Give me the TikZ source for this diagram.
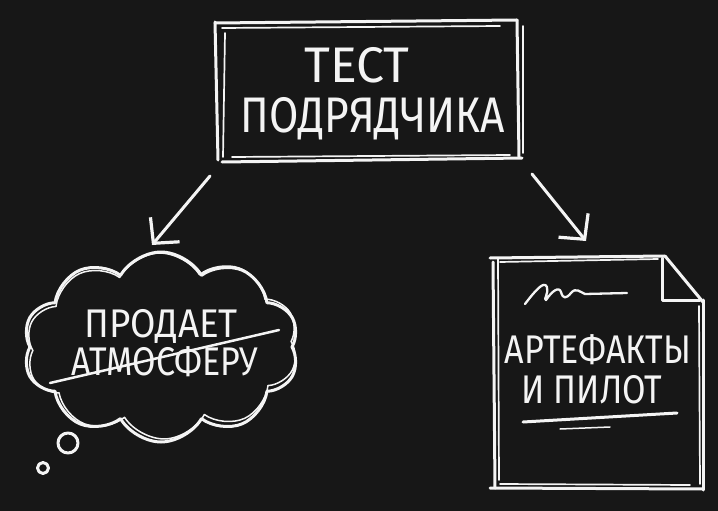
\documentclass[tikz,border=0pt]{standalone}
\usepackage{fontspec}
\setmainfont{Fira Sans}[FakeStretch=0.85]
\usetikzlibrary{arrows.meta,positioning,calc,shapes.symbols}
\definecolor{board}{HTML}{171717}
\definecolor{chalk}{HTML}{F4F4F4}
\tikzset{
  sketch/.style={draw=chalk, line width=3pt, line cap=round, line join=round},
  thinsketch/.style={sketch, line width=1.5pt},
  pointer/.style={sketch, -{Straight Barb[length=18pt,width=38pt,line width=3.2pt]}},
  bigtext/.style={text=chalk, font=\fontsize{50}{52}\selectfont, inner sep=0pt, anchor=base},
  midtext/.style={text=chalk, font=\fontsize{40}{44}\selectfont, inner sep=0pt, anchor=base}
}
\begin{document}
\begin{tikzpicture}[x=1pt,y=-1pt]
        \fill[board] (0,0) rectangle (718,511);
        % top box
        \foreach \xa/\ya/\xb/\yb/\w in {215/23/517/20/3,222/28/500/26/1.7,215/22/218/160/3,225/33/223/157/1.7,
                                        517/20/519/157/3,523/26/523/153/1.7,222/162/522/158/3,232/157/510/155/1.7} {
          \draw[sketch,line width=\w pt] (\xa,\ya) -- (\xb,\yb);
        }
        \node[bigtext] (title1) at (357,82) {\addfontfeatures{FakeStretch=1.0}ТЕСТ};
        \node[bigtext] (title2) at (373,132) {ПОДРЯДЧИКА};
        % arrows
        \coordinate (lstart) at (210,176);
        \coordinate (lend) at (152,245);
        \coordinate (rstart) at (532,174);
        \coordinate (rend) at (586,241);
        \draw[pointer] (lstart) -- (lend);
        \draw[pointer] (rstart) -- (rend);
        % thought cloud
        \node[cloud, cloud puffs=10, cloud puff arc=120, aspect=1.5, sketch,
              minimum width=276pt, minimum height=190pt] (thought) at (161,347) {};
        \node[cloud, cloud puffs=10, cloud puff arc=120, aspect=1.5, thinsketch, rotate=2,
              minimum width=272pt, minimum height=186pt] (thought2) at (162,346) {};
        \node[circle, sketch, minimum size=20pt, inner sep=0pt] (bubble1) at (68,443) {};
        \node[circle, sketch, minimum size=11pt, inner sep=0pt] (bubble2) at (43,468) {};
        \node[midtext] (sells) at (161,337) {\addfontfeatures{FakeStretch=0.92}ПРОДАЕТ};
        \node[midtext] (mood) at (165,375) {АТМОСФЕРУ};
        \coordinate (cut1) at (50,383);
        \coordinate (cut2) at (279,330);
        \draw[sketch,line width=2.5pt] (cut1) -- (cut2);
        % document
        \foreach \xa/\ya/\xb/\yb/\w in {493/262/495/488/3,498/258/499/480/1.7,490/258/665/256/3,500/262/658/259/1.7,
                                        665/256/703/302/3,703/300/703/490/3,699/306/700/484/1.7,
                                        490/488/703/489/3,500/484/690/485/1.7} {
          \draw[sketch,line width=\w pt] (\xa,\ya) -- (\xb,\yb);
        }
        \draw[sketch] (662,258) -- (662,300) -- (700,300);
        \draw[thinsketch,line width=2.3pt] (525,304) .. controls (535,291) and (544,280) .. (547,287)
          .. controls (549,293) and (543,300) .. (546,300) .. controls (552,291) and (559,286) .. (561,292)
          .. controls (563,299) and (566,299) .. (571,293) .. controls (576,287) and (580,292) .. (585,294) -- (627,293);
        \node[midtext] (arts) at (598,363) {АРТЕФАКТЫ};
        \node[midtext] (pilot) at (592,403) {И ПИЛОТ};
        \draw[sketch] (523,422) -- (677,413);
        \draw[thinsketch] (560,429) -- (610,427);
      \end{tikzpicture}
\end{document}
